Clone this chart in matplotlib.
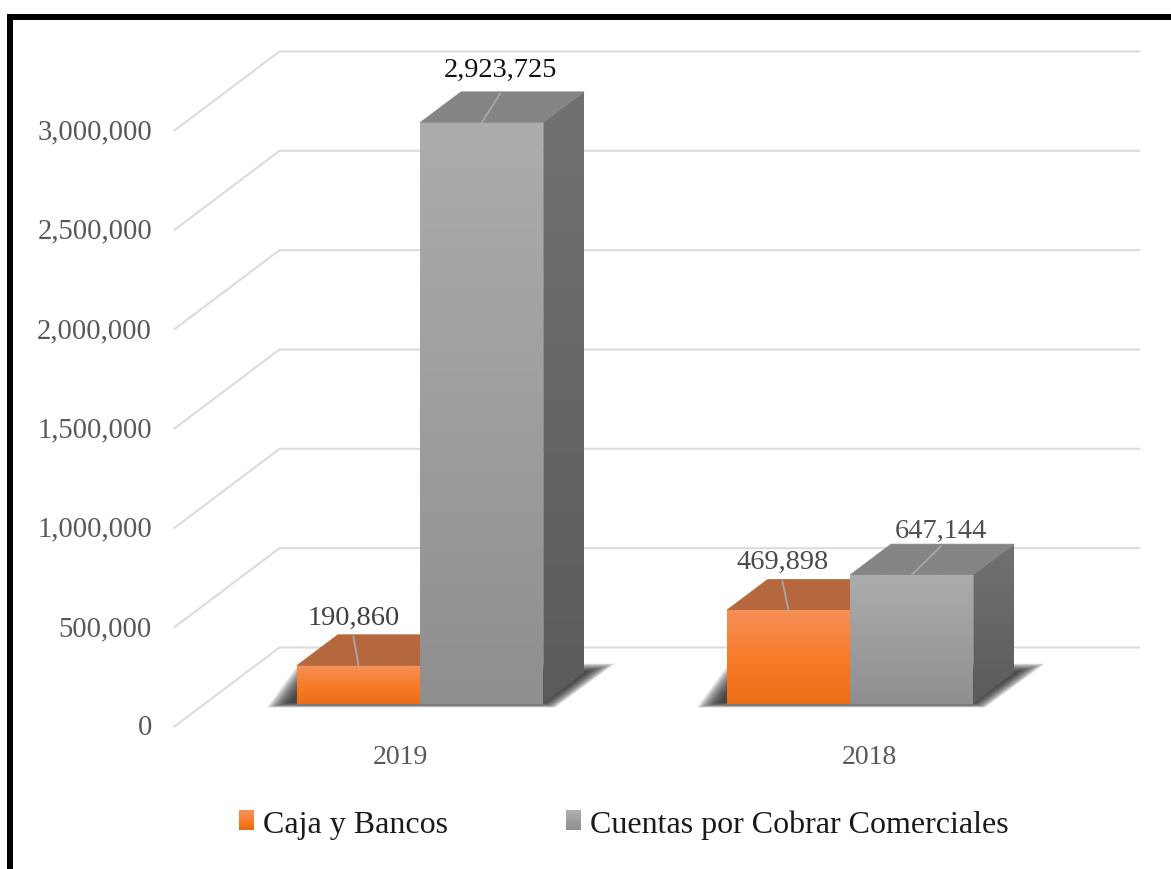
import numpy as np
import matplotlib
matplotlib.use("Agg")
from matplotlib import pyplot as plt
from matplotlib.patches import Polygon, Rectangle, Patch
from matplotlib.legend_handler import HandlerBase
from matplotlib.colors import LinearSegmentedColormap

plt.rcParams["font.family"] = ["Liberation Serif", "DejaVu Serif"]

categories = ["2019", "2018"]
series_names = ["Caja y Bancos", "Cuentas por Cobrar Comerciales"]
caja = [190860, 469898]
cuentas = [2923725, 647144]
y_ticks = [0, 500000, 1000000, 1500000, 2000000, 2500000, 3000000]

W, H = 1171, 870
# scales
PX_X = 430.0            # px per category
PX_V = 596.0 / 3000000  # px per value unit
X0_PX, Y0_PX = 174.5, 727.5
DEPTH_X = 105 / PX_X
DEPTH_V = 79 / PX_V
BAR_W = 0.2865
BAR_D0, BAR_D1 = 0.291, 0.681

fig = plt.figure(figsize=(W / 100, H / 100), dpi=100, facecolor="white")
ax = fig.add_axes([0, 0, 1, 1])
ax.axis("off")


def pr(x, v, d=0.0):
    return x + d * DEPTH_X, v + d * DEPTH_V


def shade(poly_pts, cols, y0, y1, z):
    # vertical gradient clipped to a polygon, cols go bottom to top
    cmap = LinearSegmentedColormap.from_list("g", cols)
    xs = [p[0] for p in poly_pts]
    im = ax.imshow(np.linspace(1, 0, 128).reshape(-1, 1), cmap=cmap, aspect="auto", zorder=z,
                   extent=[min(xs), max(xs), y0, y1], interpolation="bilinear", vmin=0, vmax=1)
    pg = Polygon(poly_pts, closed=True, transform=ax.transData, fc="none", ec="none")
    ax.add_patch(pg)
    im.set_clip_path(pg)


# gridlines
grid_col = "#DCDCDC"
for v in y_ticks:
    a = pr(0, v, 0)
    b = pr(0, v, 1)
    c = pr(2, v, 1)
    ax.plot([a[0], b[0], c[0]], [a[1], b[1], c[1]], color=grid_col, lw=1.5, zorder=1, solid_joinstyle="miter")
    ax.text(-22.5 / PX_X, v - 1 / PX_V, f"{v:,}", ha="right", va="center", fontsize=20.6, color="#595959")

# floor shadows behind each pair of bars, offsets in px from the bars' front corners
outer = [(-30, -4), (2, 40), (72, 40), (12, -4)]
inner = [(-6, 1), (12, 24), (42, 31), (0, 1)]
n_sh = 20
for i in range(len(categories)):
    left = i + 0.5 - BAR_W
    right = i + 0.5 + BAR_W
    base_l = pr(left, 0, BAR_D0)
    base_r = pr(right, 0, BAR_D0)
    for k in range(n_sh):
        t = k / (n_sh - 1)
        pts = []
        for j, (o, n) in enumerate(zip(outer, inner)):
            base = base_l if j < 2 else base_r
            dx = o[0] + (n[0] - o[0]) * t
            dy = o[1] + (n[1] - o[1]) * t
            pts.append((base[0] + dx / PX_X, base[1] + dy / PX_V))
        ax.add_patch(Polygon(pts, closed=True, fc="#2A2A2A", ec="none", alpha=0.09, zorder=2))
    ax.plot([base_l[0], base_r[0]], [base_l[1] - 1 / PX_V] * 2, color="#7A7A7A", lw=1.4, zorder=2.5)

# bars
styles = [
    {"front": ["#EA6E17", "#F97D2A", "#F58F58"], "top": "#B5683E", "side": ["#8A4A20", "#A85A2A"]},
    {"front": ["#8F8F8F", "#9E9E9E", "#ACACAC"], "top": "#858585", "side": ["#5B5B5B", "#717171"]},
]
label_off = [[(-5, -48), (-6, -49)], [(18.5, -53), (29.5, -45)]]
label_col = [["#3F3F3F", "#4A4A4A"], ["#111111", "#505050"]]

z = 3
for i in range(len(categories)):
    for s, vals in enumerate([caja, cuentas]):
        v = vals[i]
        x0 = i + 0.5 - BAR_W + s * BAR_W
        x1 = x0 + BAR_W
        st = styles[s]
        fr = [pr(x0, 0, BAR_D0), pr(x1, 0, BAR_D0), pr(x1, v, BAR_D0), pr(x0, v, BAR_D0)]
        side = [pr(x1, 0, BAR_D0), pr(x1, 0, BAR_D1), pr(x1, v, BAR_D1), pr(x1, v, BAR_D0)]
        top = [pr(x0, v, BAR_D0), pr(x1, v, BAR_D0), pr(x1, v, BAR_D1), pr(x0, v, BAR_D1)]
        ax.add_patch(Polygon(top, closed=True, fc=st["top"], ec=st["top"], lw=0.5, zorder=z))
        shade(side, st["side"], fr[0][1], side[2][1], z + 0.1)
        shade(fr, st["front"], fr[0][1], fr[2][1], z + 0.2)
        # leader + value
        mid = pr((x0 + x1) / 2, v, BAR_D0)
        ox, oy = label_off[s][i]
        ax.plot([mid[0], mid[0] + ox / PX_X], [mid[1], mid[1] + 29 / PX_V], color="#A8A8A8", lw=1.3, zorder=z + 0.3)
        ax.annotate(f"{v:,}", xy=mid, xytext=(ox * 0.72, -oy * 0.72), textcoords="offset points",
                    ha="center", va="center", fontsize=20.4, color=label_col[s][i], zorder=20)
        z += 1

# category labels
cat_x = [0.526, 1.616]
for cx, c in zip(cat_x, categories):
    ax.text(cx, -30 / PX_V, c, ha="center", va="center", fontsize=20, color="#595959")


class GradHandler(HandlerBase):
    def create_artists(self, legend, orig, xd, yd, width, height, fontsize, trans):
        cmap = LinearSegmentedColormap.from_list("h", orig.grad_cols)
        out = []
        n = 10
        for k in range(n):
            out.append(Rectangle((-xd, -yd + height * k / n), width, height / n + 0.3, fc=cmap(k / (n - 1)),
                                 ec="none", transform=trans))
        return out


h1 = Patch(label=series_names[0])
h1.grad_cols = styles[0]["front"]
h2 = Patch(label=series_names[1])
h2.grad_cols = styles[1]["front"]
leg = ax.legend(handles=[h1, h2], handler_map={Patch: GradHandler()}, ncol=2, frameon=False,
                loc="center", bbox_to_anchor=(624 / W, 1 - 825 / H), fontsize=23,
                handlelength=0.47, handleheight=0.55, handletextpad=0.28, columnspacing=3.7,
                labelcolor="#1A1A1A", borderpad=0, borderaxespad=0)

ax.set_xlim(-X0_PX / PX_X, (W - X0_PX) / PX_X)
ax.set_ylim(-(H - Y0_PX) / PX_V, Y0_PX / PX_V)

# black frame of the picture (left and top only)
fig.add_artist(Rectangle((7 / W, 0), 6 / W, 1 - 15 / H, transform=fig.transFigure, fc="black", ec="none"))
fig.add_artist(Rectangle((7 / W, 1 - 21 / H), 1 - 7 / W, 6 / H, transform=fig.transFigure, fc="black", ec="none"))

fig.savefig("out.png", dpi=100)
